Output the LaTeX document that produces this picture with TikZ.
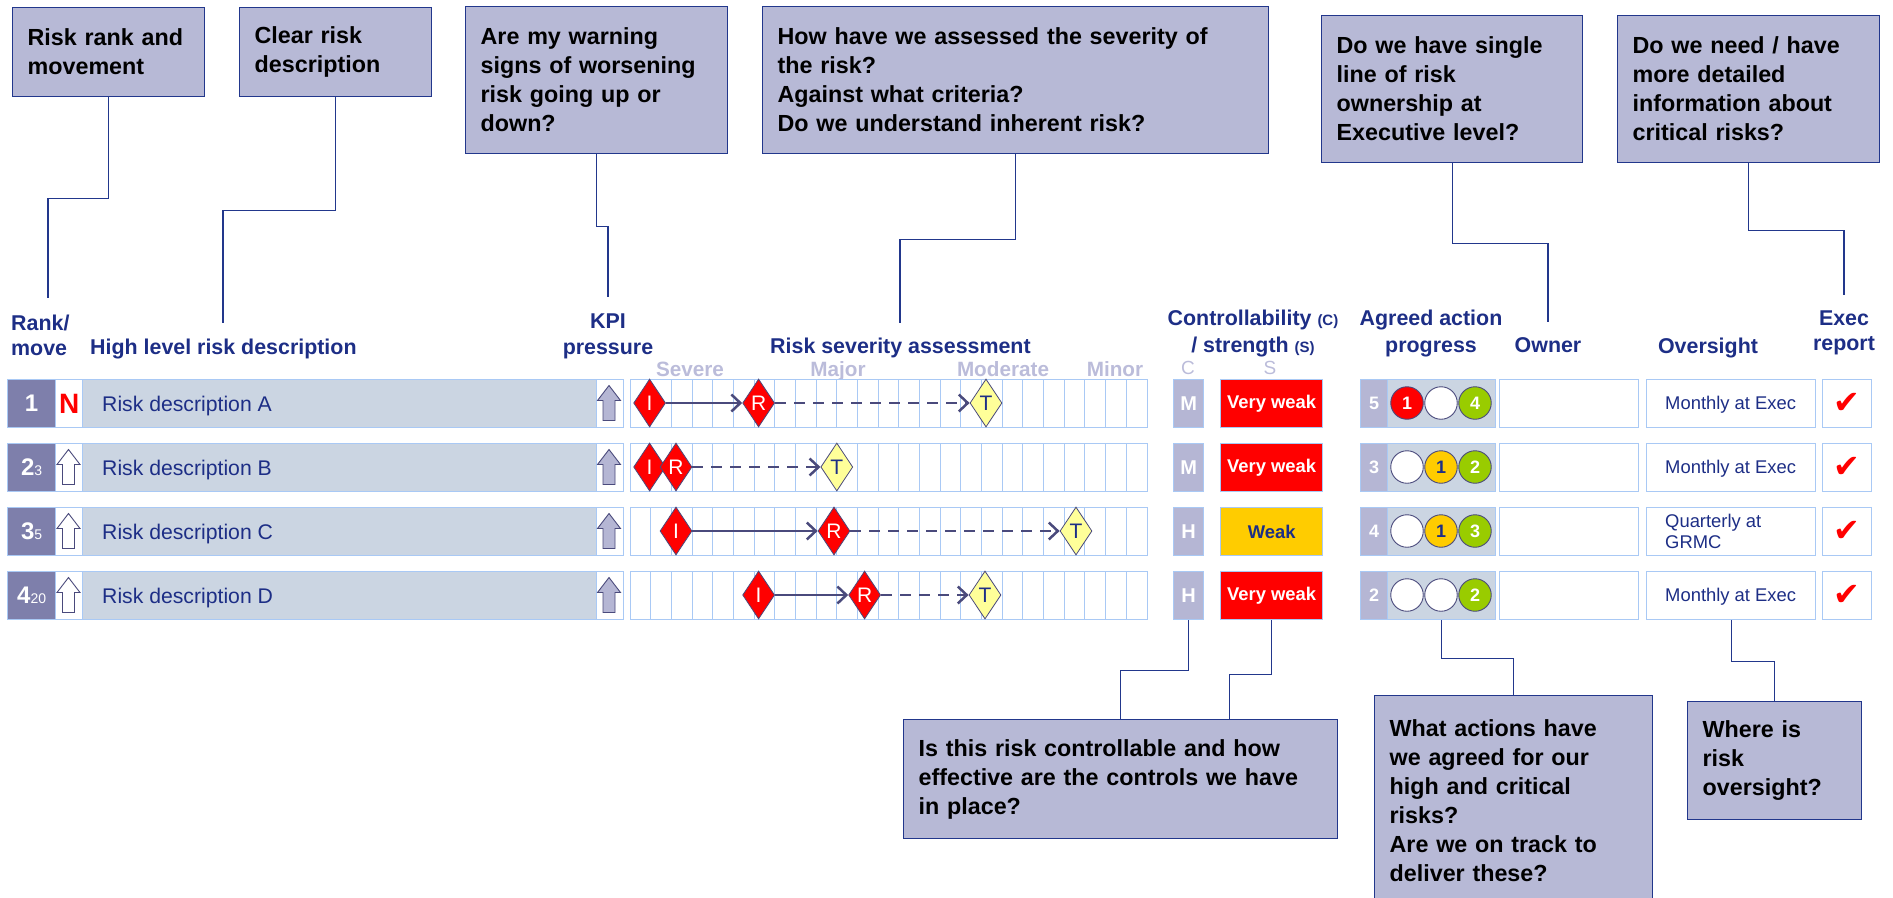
\documentclass[tikz,border=0pt]{standalone}
\usepackage{fontspec}
\setmainfont{Liberation Sans}
\newfontfamily\tickfont{DejaVu Sans}
\usetikzlibrary{shapes.geometric,arrows.meta}

\definecolor{boxfill}{HTML}{B7B9D6}
\definecolor{boxline}{HTML}{22378C}
\definecolor{navy}{HTML}{1D2E86}
\definecolor{rowfill}{HTML}{CBD5E2}
\definecolor{rowline}{HTML}{A9C9F5}
\definecolor{rankfill}{HTML}{7E7FAB}
\definecolor{lilac}{HTML}{B5B6D4}
\definecolor{pale}{HTML}{BBBCDA}
\definecolor{slate}{HTML}{4A4A7C}
\definecolor{tyellow}{HTML}{FFFF99}
\definecolor{amber}{HTML}{FFCC00}
\definecolor{lime}{HTML}{99CC00}

% up arrow at a point, with a fill colour
\newcommand{\pressurearrow}[2]{%
  \draw[slate,fill=#2,line width=0.9pt] (#1) ++(0,-17.5) -- ++(11.5,15) -- ++(-5.5,0)
    -- ++(0,20) -- ++(-12,0) -- ++(0,-20) -- ++(-5.5,0) -- cycle;}

\begin{document}
\begin{tikzpicture}[x=1pt,y=-1pt,
  callout/.style={draw=boxline,fill=boxfill,line width=1.3pt,anchor=north west,align=left,
    inner xsep=15pt,inner ysep=0pt,font=\fontsize{23.3}{29}\selectfont\bfseries},
  lead/.style={draw=boxline,line width=1.2pt},
  hdr/.style={text=navy,inner sep=0pt,anchor=base,font=\fontsize{21.4}{25.5}\selectfont\bfseries},
  band/.style={text=pale,inner sep=0pt,anchor=base,font=\fontsize{20.7}{20.7}\selectfont\bfseries},
  cell/.style={draw=rowline,line width=1.3pt,anchor=north west,minimum height=48pt,inner sep=0pt},
  rowtext/.style={text=navy,inner sep=0pt,font=\fontsize{21.2}{21.2}\selectfont},
  ovtext/.style={text=navy,inner sep=0pt,align=left,font=\fontsize{18.4}{21}\selectfont},
  gem/.style={diamond,draw=slate,line width=0.8pt,minimum width=32pt,minimum height=48pt,
    aspect=0.66,inner sep=0pt,font=\fontsize{21}{21}\selectfont},
  dot/.style={circle,draw=slate,line width=0.9pt,minimum size=32.5pt,inner sep=0pt,
    font=\fontsize{18}{18}\selectfont\bfseries},
  solidarr/.style={slate,line width=2.5pt,-{Straight Barb[length=9pt,width=17pt]}},
  dasharr/.style={solidarr,dash pattern=on 11pt off 8pt}]
\useasboundingbox (0,0) rectangle (1893,897);

% question boxes
\node[callout,text width=162pt,minimum height=89pt] (q1) at (12,7) {Risk rank and\\movement};
\node[callout,text width=162pt,minimum height=89pt] (q2) at (239,7) {Clear risk\\description};
\node[callout,text width=232pt,minimum height=147pt] (q3) at (465,6) {Are my warning\\signs of worsening\\risk going up or\\down?};
\node[callout,text width=476pt,minimum height=147pt] (q4) at (762,6) {How have we assessed the severity of\\the risk?\\Against what criteria?\\Do we understand inherent risk?};
\node[callout,text width=231pt,minimum height=147pt] (q5) at (1321,15) {Do we have single\\line of risk\\ownership at\\Executive level?};
\node[callout,text width=232pt,minimum height=147pt] (q6) at (1617,15) {Do we need / have\\more detailed\\information about\\critical risks?};
\node[callout,text width=404pt,minimum height=119pt] (q7) at (903,719) {Is this risk controllable and how\\effective are the controls we have\\in place?};
\node[callout,text width=248pt,minimum height=210pt] (q8) at (1374,695) {What actions have\\we agreed for our\\high and critical\\risks?\\Are we on track to\\deliver these?};
\node[callout,text width=144pt,minimum height=118pt] (q9) at (1687,701) {Where is\\risk\\oversight?};

% column headings
\node[hdr,anchor=base west] (hr1) at (11,330) {Rank/};
\node[hdr,anchor=base west] (hr2) at (11,355) {move};
\node[hdr,anchor=base west] (hd) at (90,354) {High level risk description};
\node[hdr] (hk1) at (608,328) {KPI};
\node[hdr] (hk2) at (608,354) {pressure};
\node[hdr,anchor=base west] (hs) at (770,353) {Risk severity assessment};
\node[hdr] (hc1) at (1253,325) {Controllability {\fontsize{15}{15}\selectfont(C)}};
\node[hdr] (hc2) at (1253,352) {/ strength {\fontsize{15}{15}\selectfont(S)}};
\node[hdr] (ha1) at (1431,325) {Agreed action};
\node[hdr] (ha2) at (1431,352) {progress};
\node[hdr] (ho) at (1548,352) {Owner};
\node[hdr] (hv) at (1708,353) {Oversight};
\node[hdr] (he1) at (1844,325) {Exec};
\node[hdr] (he2) at (1844,350) {report};
\node[band] (bsev) at (690,376) {Severe};
\node[band] (bmaj) at (838,376) {Major};
\node[band] (bmod) at (1003,376) {Moderate};
\node[band] (bmin) at (1115,376) {Minor};
\node[text=pale,font=\fontsize{19}{19}\selectfont] (hcc) at (1188,368) {C};
\node[text=pale,font=\fontsize{19}{19}\selectfont] (hss) at (1270,368) {S};

% table rows
\foreach \i/\rk/\sb/\d/\c in {1/1//A/M,2/2/3/B/M,3/3/5/C/H,4/4/20/D/H}{
  \pgfmathsetmacro{\t}{315+64*\i}
  \pgfmathsetmacro{\m}{339+64*\i}
  \node[cell,fill=rankfill,minimum width=48pt,text=white,font=\fontsize{24}{24}\selectfont\bfseries] (rank\i) at (7,\t) {\rk{\fontsize{14}{14}\selectfont\mdseries\sb}};
  \node[cell,fill=white,minimum width=27pt] (move\i) at (55,\t) {};
  \node[cell,fill=rowfill,minimum width=514pt] (desc\i) at (82,\t) {};
  \node[rowtext,anchor=base west] (txt\i) at (102,\m+8) {Risk description \d};
  \node[cell,fill=white,minimum width=27pt] (kpi\i) at (596,\t) {};
  \pressurearrow{609,\m}{lilac}
  \node[cell,fill=white,minimum width=517pt] (sev\i) at (630,\t) {};
  \foreach \k in {1,...,24} \draw[rowline,line width=1pt] (630+20.68*\k,\t) -- ++(0,48);
  \node[cell,fill=lilac,minimum width=30pt,text=white,font=\fontsize{20}{20}\selectfont\bfseries] (ctl\i) at (1173,\t) {\c};
  \node[cell,fill=lilac,minimum width=27pt,text=white,font=\fontsize{18}{18}\selectfont\bfseries] (num\i) at (1360,\t) {};
  \node[cell,fill=rowfill,minimum width=108pt] (act\i) at (1387,\t) {};
  \node[cell,fill=white,minimum width=139pt] (own\i) at (1499,\t) {};
  \node[cell,fill=white,minimum width=169pt] (ovs\i) at (1646,\t) {};
  \node[cell,fill=white,minimum width=49pt] (exe\i) at (1822,\t) {};
  \node[text=red,font=\tickfont\fontsize{32}{32}\selectfont] (tick\i) at (exe\i.center) {✔};
  \ifnum\i>1 \pressurearrow{68.5,\m}{white}\fi
}
\node[text=red,font=\fontsize{28}{28}\selectfont\bfseries] (new1) at (move1.center) {N};

% action counts
\node[text=white,font=\fontsize{18}{18}\selectfont\bfseries] (n1) at (num1.center) {5};
\node[text=white,font=\fontsize{18}{18}\selectfont\bfseries] (n2) at (num2.center) {3};
\node[text=white,font=\fontsize{18}{18}\selectfont\bfseries] (n3) at (num3.center) {4};
\node[text=white,font=\fontsize{18}{18}\selectfont\bfseries] (n4) at (num4.center) {2};

% strength
\node[cell,fill=red,minimum width=102pt,text=white,font=\fontsize{18.4}{18.4}\selectfont\bfseries] (str1) at (1220,379) {Very weak};
\node[cell,fill=red,minimum width=102pt,text=white,font=\fontsize{18.4}{18.4}\selectfont\bfseries] (str2) at (1220,443) {Very weak};
\node[cell,fill=amber,minimum width=102pt,text=navy,font=\fontsize{18.4}{18.4}\selectfont\bfseries] (str3) at (1220,507) {Weak};
\node[cell,fill=red,minimum width=102pt,text=white,font=\fontsize{18.4}{18.4}\selectfont\bfseries] (str4) at (1220,571) {Very weak};

% action lights
\node[dot,fill=red,text=white] (a11) at (1407,403) {1};
\node[dot,fill=white] (a12) at (1441,403) {};
\node[dot,fill=lime,text=white] (a13) at (1475,403) {4};
\node[dot,fill=white] (a21) at (1407,467) {};
\node[dot,fill=amber,text=navy] (a22) at (1441,467) {1};
\node[dot,fill=lime,text=white] (a23) at (1475,467) {2};
\node[dot,fill=white] (a31) at (1407,531) {};
\node[dot,fill=amber,text=navy] (a32) at (1441,531) {1};
\node[dot,fill=lime,text=white] (a33) at (1475,531) {3};
\node[dot,fill=white] (a41) at (1407,595) {};
\node[dot,fill=white] (a42) at (1441,595) {};
\node[dot,fill=lime,text=white] (a43) at (1475,595) {2};

% oversight
\node[ovtext,anchor=base west] (o1) at (1665,409.5) {Monthly at Exec};
\node[ovtext,anchor=base west] (o2) at (1665,473.5) {Monthly at Exec};
\node[ovtext,anchor=west] (o3) at (1665,531) {Quarterly at\\GRMC};
\node[ovtext,anchor=base west] (o4) at (1665,601.5) {Monthly at Exec};

% severity: inherent, residual, target
\node[gem,fill=red,text=white] (i1) at (649.6,403) {I};
\node[gem,fill=red,text=white] (r1) at (758.6,403) {R};
\node[gem,fill=tyellow,text=navy] (t1) at (986,403) {T};
\draw[solidarr] (i1) -- (r1);
\draw[dasharr] (r1) -- (t1);
\node[gem,fill=red,text=white] (i2) at (649.6,467) {I};
\node[gem,fill=red,text=white] (r2) at (676,467) {R};
\node[gem,fill=tyellow,text=navy] (t2) at (836.8,467) {T};
\draw[dasharr] (r2) -- (t2);
\node[gem,fill=red,text=white] (i3) at (676,531) {I};
\node[gem,fill=red,text=white] (r3) at (834,531) {R};
\node[gem,fill=tyellow,text=navy] (t3) at (1076,531) {T};
\draw[solidarr] (i3) -- (r3);
\draw[dasharr] (r3) -- (t3);
\node[gem,fill=red,text=white] (i4) at (758.6,595) {I};
\node[gem,fill=red,text=white] (r4) at (864.6,595) {R};
\node[gem,fill=tyellow,text=navy] (t4) at (985,595) {T};
\draw[solidarr] (i4) -- (r4);
\draw[dasharr] (r4) -- (t4);

% leader lines
\coordinate (e1) at (48,298);
\coordinate (e2) at (223,323);
\coordinate (e3) at (608,297);
\coordinate (e4) at (900,323);
\coordinate (e5) at (1548,322);
\coordinate (e6) at (1844,295);
\draw[lead] (q1.south) -- ++(0,101) -| (e1);
\draw[lead] (q2.south) -- ++(0,113) -| (e2);
\draw[lead] (q3.south) -- ++(0,72) -| (e3);
\draw[lead] (q4.south) -- ++(0,85) -| (e4);
\draw[lead] (q5.south) -- ++(0,80) -| (e5);
\draw[lead] (q6.south) -- ++(0,67) -| (e6);
\draw[lead] (ctl4.south) -- ++(0,50) -| (q7.north);
\draw[lead] (str4.south) -- ++(0,54) -| ([xshift=109pt]q7.north);
\draw[lead] (act4.south) -- ++(0,38) -| (q8.north);
\draw[lead] (ovs4.south) -- ++(0,41) -| (q9.north);
\end{tikzpicture}
\end{document}
